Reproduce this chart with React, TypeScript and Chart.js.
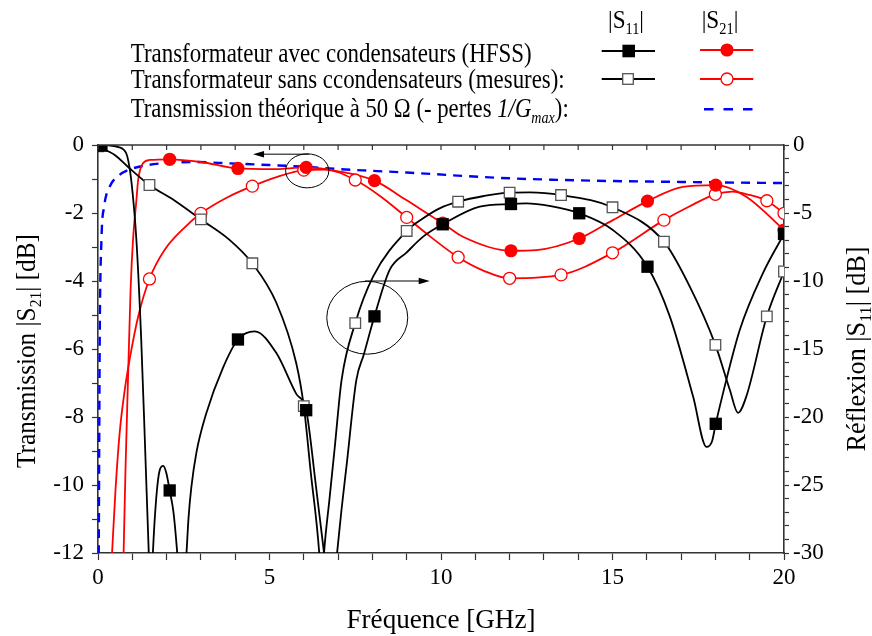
import React, { useEffect, useRef } from 'react';
import { Chart, registerables } from 'chart.js';

Chart.register(...registerables);

const SERIF = '"Liberation Serif", "Times New Roman", serif';
const RED = '#ff0000';
const BLUE = '#0000ff';
const AXIS = '#333333';

// ---------------- data (frequency in GHz, levels in dB) ----------------
// |S21| HFSS (transformateur avec condensateurs) – continuous curve
const s21HfssCurveF = [0.74, 0.8, 0.88, 0.95, 1.02, 1.12, 1.17, 1.31, 1.51, 2.09, 3.0, 4.08, 5.1, 6.07, 7.04, 8.06, 8.99, 9.67, 10.05, 10.64, 12.04, 12.78, 14.03, 15.01, 16.02, 17.05, 18.01, 18.9, 20.0];
const s21HfssCurveDb = [-12.3, -9.6, -6.7, -4.26, -2.8, -1.62, -1.03, -0.54, -0.44, -0.42, -0.5, -0.69, -0.71, -0.66, -0.78, -1.05, -1.62, -2.06, -2.3, -2.7, -3.11, -3.09, -2.75, -2.21, -1.65, -1.23, -1.18, -1.52, -2.5];

// |S21| mesures (transformateur sans condensateurs) – continuous curve
const s21MeasCurveF = [0.41, 0.51, 0.63, 0.78, 0.92, 1.17, 1.5, 1.94, 2.5, 3.0, 3.75, 4.5, 5.25, 6.0, 6.6, 7.5, 8.25, 9.0, 9.67, 10.5, 11.25, 12.0, 13.5, 15.0, 16.5, 17.25, 18.0, 18.5, 19.0, 19.5, 20.0];
const s21MeasCurveDb = [-12, -10.15, -8.48, -7.2, -6.32, -5.05, -3.94, -3.09, -2.45, -2.01, -1.55, -1.21, -0.93, -0.74, -0.72, -1.03, -1.52, -2.13, -2.68, -3.3, -3.7, -3.92, -3.82, -3.17, -2.21, -1.8, -1.45, -1.37, -1.47, -1.64, -2.01];

// |S11| HFSS – continuous curve
const s11HfssCurveF = [0, 0.3, 0.6, 0.75, 0.85, 0.97, 1.12, 1.26, 1.37, 1.48, 1.54, 1.6, 1.7, 1.8, 1.9, 1.99, 2.09, 2.2, 2.31, 2.45, 2.58, 2.64, 2.72, 2.87, 3.16, 3.64, 4.08, 4.57, 5.2, 5.78, 6.07, 6.35, 6.59, 6.78, 6.97, 7.1, 7.25, 7.53, 7.75, 8.06, 8.5, 9.0, 9.48, 10.05, 11.13, 12.04, 12.49, 13.2, 14.03, 15.01, 16.02, 16.67, 17.35, 17.74, 17.9, 18.01, 18.13, 18.71, 19.39, 20.0];
const s11HfssCurveDb = [0, -0.02, -0.15, -0.35, -0.8, -2.6, -7.0, -14.3, -22, -30, -34, -30, -25.9, -23.9, -23.6, -24.1, -25.4, -27, -30, -35, -30, -27.4, -25.2, -22.6, -19.7, -16.4, -14.3, -13.7, -15.3, -18.3, -19.5, -25, -30, -34, -30, -26.8, -23.5, -17.3, -15.4, -12.6, -9.2, -7.9, -6.74, -5.83, -4.53, -4.34, -4.29, -4.5, -5.02, -6.25, -8.95, -12.6, -18.5, -22.2, -21.8, -20.5, -19.2, -13.6, -9.4, -6.54];

// |S11| mesures – continuous curve
const s11MeasCurveF = [0, 0.49, 0.87, 1.5, 2.24, 3.0, 3.8, 4.5, 5.2, 5.78, 6.0, 6.2, 6.45, 6.52, 6.59, 6.75, 6.9, 7.1, 7.5, 8.02, 9.0, 9.48, 9.96, 10.5, 11.25, 12.0, 12.59, 13.5, 15.0, 16.5, 17.25, 18.0, 18.42, 18.66, 18.9, 19.5, 20.0];
const s11MeasCurveDb = [-0.1, -0.74, -1.6, -2.94, -4.1, -5.47, -6.9, -8.7, -11.6, -16.05, -19.2, -24, -30, -33, -30, -26, -22.3, -17.3, -13.1, -9.68, -6.32, -5.39, -4.66, -4.17, -3.75, -3.5, -3.48, -3.68, -4.58, -7.11, -10.4, -14.7, -18.0, -19.7, -18.5, -12.6, -9.3];

// Transmission théorique à 50 Ω (- pertes 1/Gmax)
const theoryF = [0.02, 0.05, 0.1, 0.18, 0.34, 0.63, 0.87, 1.46, 2.33, 2.8, 3.84, 5.0, 6.07, 7.05, 8.0, 9.0, 9.87, 10.64, 12.0, 13.6, 15.0, 16.5, 18.0, 20.0];
const theoryDb = [-12.5, -5.74, -2.8, -1.81, -1.23, -0.88, -0.74, -0.59, -0.51, -0.5, -0.54, -0.59, -0.64, -0.71, -0.76, -0.81, -0.86, -0.91, -0.98, -1.03, -1.06, -1.08, -1.1, -1.12];

// markers
const hfssMarkF = [0.1, 2.09, 4.08, 6.07, 8.06, 10.05, 12.04, 14.03, 16.02, 18.01, 20.0];
const hfssS11Mark = [-0.05, -25.4, -14.3, -19.5, -12.6, -5.83, -4.34, -5.02, -8.95, -20.5, -6.54];
const hfssS21Mark: (number | null)[] = [null, -0.42, -0.69, -0.66, -1.05, -2.3, -3.11, -2.75, -1.65, -1.18, -2.5];
const measMarkF = [0, 1.5, 3.0, 4.5, 6.0, 7.5, 9.0, 10.5, 12.0, 13.5, 15.0, 16.5, 18.0, 19.5, 20.0];
const measS11Mark = [-0.1, -2.94, -5.47, -8.7, -19.2, -13.1, -6.32, -4.17, -3.5, -3.68, -4.58, -7.11, -14.7, -12.6, -9.3];
const measS21Mark: (number | null)[] = [null, -3.94, -2.01, -1.21, -0.74, -1.03, -2.13, -3.3, -3.92, -3.82, -3.17, -2.21, -1.45, -1.64, -2.01];

// axes
const xTickLabels = [0, 5, 10, 15, 20];
const leftTickLabels = [0, -2, -4, -6, -8, -10, -12];
const rightTickLabels = [0, -5, -10, -15, -20, -25, -30];

// annotations (data coordinates)
const ellipseA = { cx: 6.1, cy: -0.76, rx: 0.63, ry: 0.5, axis: 'y' };
const arrowA = { x0: 6.15, x1: 4.52, y: -0.27, axis: 'y' };
const ellipseB = { cx: 7.85, cy: -12.7, rx: 1.18, ry: 2.68, axis: 'y2' };
const arrowB = { x0: 7.78, x1: 9.67, y: -10.0, axis: 'y2' };

// ----------------------------------------------------------------------
type Pt = { x: number; y: number | null };
const pairs = (xs: number[], ys: (number | null)[]): Pt[] => xs.map((x, i) => ({ x, y: ys[i] }));

type Part = { t: string; sub?: boolean; it?: boolean };

function drawRich(
  ctx: CanvasRenderingContext2D,
  parts: Part[],
  x: number,
  y: number,
  size: number,
  fit: number | null,
  align: 'left' | 'center',
  rotate = 0
) {
  const subSize = size * 0.62;
  const font = (p: Part) => `${p.it ? 'italic ' : ''}${p.sub ? subSize : size}px ${SERIF}`;
  const widths = parts.map((p) => {
    ctx.font = font(p);
    return ctx.measureText(p.t).width;
  });
  const total = widths.reduce((a, b) => a + b, 0);
  const sx = fit ? fit / total : 1;
  ctx.save();
  ctx.translate(x, y);
  if (rotate) ctx.rotate(rotate);
  ctx.scale(sx, 1);
  ctx.fillStyle = '#000';
  ctx.textAlign = 'left';
  ctx.textBaseline = 'alphabetic';
  let cx = align === 'center' ? -total / 2 : 0;
  parts.forEach((p, i) => {
    ctx.font = font(p);
    ctx.fillText(p.t, cx, p.sub ? size * 0.24 : 0);
    cx += widths[i];
  });
  ctx.restore();
}

function arrowHead(ctx: CanvasRenderingContext2D, tipX: number, y: number, dir: number) {
  ctx.beginPath();
  ctx.moveTo(tipX, y);
  ctx.lineTo(tipX - dir * 11, y - 3.2);
  ctx.lineTo(tipX - dir * 11, y + 3.2);
  ctx.closePath();
  ctx.fill();
}

const overlayPlugin = {
  id: 'overlay',
  afterDatasetsDraw(chart: any) {
    const ctx: CanvasRenderingContext2D = chart.ctx;
    const xs = chart.scales.x;
    ctx.save();
    ctx.strokeStyle = '#000';
    ctx.fillStyle = '#000';
    ctx.lineWidth = 1;
    [ellipseA, ellipseB].forEach((e) => {
      const ys = chart.scales[e.axis];
      const cx = xs.getPixelForValue(e.cx);
      const cy = ys.getPixelForValue(e.cy);
      const rx = Math.abs(xs.getPixelForValue(e.cx + e.rx) - cx);
      const ry = Math.abs(ys.getPixelForValue(e.cy + e.ry) - cy);
      ctx.beginPath();
      ctx.ellipse(cx, cy, rx, ry, 0, 0, Math.PI * 2);
      ctx.stroke();
    });
    [arrowA, arrowB].forEach((a) => {
      const ys = chart.scales[a.axis];
      const x0 = xs.getPixelForValue(a.x0);
      const x1 = xs.getPixelForValue(a.x1);
      const y = ys.getPixelForValue(a.y);
      const dir = Math.sign(x1 - x0);
      ctx.beginPath();
      ctx.moveTo(x0, y);
      ctx.lineTo(x1 - dir * 8, y);
      ctx.stroke();
      arrowHead(ctx, x1, y, dir);
    });
    ctx.restore();
  },
  afterDraw(chart: any) {
    const ctx: CanvasRenderingContext2D = chart.ctx;
    const area = chart.chartArea;
    const xs = chart.scales.x;
    ctx.save();
    // top frame with inward ticks
    ctx.strokeStyle = AXIS;
    ctx.lineWidth = 1.6;
    ctx.beginPath();
    ctx.moveTo(area.left, area.top);
    ctx.lineTo(area.right, area.top);
    ctx.stroke();
    ctx.lineWidth = 1.2;
    xs.ticks.forEach((t: any) => {
      const px = xs.getPixelForValue(t.value);
      ctx.beginPath();
      ctx.moveTo(px, area.top);
      ctx.lineTo(px, area.top + 5);
      ctx.stroke();
    });

    // axis titles
    drawRich(ctx, [{ t: 'Fréquence [GHz]' }], (area.left + area.right) / 2, 628, 27, 189, 'center');
    drawRich(
      ctx,
      [{ t: 'Transmission |S' }, { t: '21', sub: true }, { t: '| [dB]' }],
      35,
      (area.top + area.bottom) / 2 + 2,
      27,
      234,
      'center',
      -Math.PI / 2
    );
    drawRich(
      ctx,
      [{ t: 'Réflexion |S' }, { t: '11', sub: true }, { t: '| [dB]' }],
      865,
      (area.top + area.bottom) / 2,
      27,
      205,
      'center',
      -Math.PI / 2
    );

    // legend table
    drawRich(ctx, [{ t: '|S' }, { t: '11', sub: true }, { t: '|' }], 626, 28, 26, 36, 'center');
    drawRich(ctx, [{ t: '|S' }, { t: '21', sub: true }, { t: '|' }], 720, 28, 26, 36.6, 'center');
    drawRich(ctx, [{ t: 'Transformateur avec condensateurs (HFSS)' }], 130.7, 61.7, 27, 401, 'left');
    drawRich(ctx, [{ t: 'Transformateur sans ccondensateurs (mesures):' }], 130.7, 88.3, 27, 434, 'left');
    drawRich(
      ctx,
      [
        { t: 'Transmission théorique à 50 Ω (- pertes ' },
        { t: '1/G', it: true },
        { t: 'max', it: true, sub: true },
        { t: '):' },
      ],
      130.7,
      116.7,
      27,
      438,
      'left'
    );

    // legend samples
    const line = (x0: number, x1: number, y: number, color: string, w: number, dash: number[] = []) => {
      ctx.strokeStyle = color;
      ctx.lineWidth = w;
      ctx.setLineDash(dash);
      ctx.beginPath();
      ctx.moveTo(x0, y);
      ctx.lineTo(x1, y);
      ctx.stroke();
      ctx.setLineDash([]);
    };
    line(601.7, 655, 51, '#000', 1.8);
    ctx.fillStyle = '#000';
    ctx.fillRect(628.7 - 6.3, 51 - 6.3, 12.6, 12.6);
    line(700, 753.3, 50, RED, 1.8);
    ctx.fillStyle = RED;
    ctx.beginPath();
    ctx.arc(727, 50, 6.6, 0, Math.PI * 2);
    ctx.fill();

    line(601.7, 655, 79, '#000', 1.8);
    ctx.fillStyle = '#fff';
    ctx.fillRect(628 - 5.3, 79 - 5.3, 10.6, 10.6);
    ctx.strokeStyle = '#555';
    ctx.lineWidth = 1.3;
    ctx.strokeRect(628 - 5.3, 79 - 5.3, 10.6, 10.6);
    line(700, 753.3, 79, RED, 1.8);
    ctx.fillStyle = '#fff';
    ctx.strokeStyle = RED;
    ctx.lineWidth = 1.3;
    ctx.beginPath();
    ctx.arc(727, 79, 6, 0, Math.PI * 2);
    ctx.fill();
    ctx.stroke();

    line(704, 753, 109.3, BLUE, 2.4, [9.5, 10]);
    ctx.restore();
  },
};

export default function App() {
  const ref = useRef<HTMLCanvasElement>(null);

  useEffect(() => {
    const canvas = ref.current;
    if (!canvas) return;
    const tickFont = { family: SERIF, size: 23 };
    const curve = (data: Pt[], axis: string, color: string, order: number, extra: any = {}) => ({
      data,
      yAxisID: axis,
      borderColor: color,
      backgroundColor: color,
      borderWidth: 1.8,
      pointRadius: 0,
      cubicInterpolationMode: 'monotone',
      fill: false,
      clip: 0,
      order,
      ...extra,
    });
    const chart = new Chart(canvas, {
      type: 'line',
      data: {
        datasets: [
          {
            data: pairs(hfssMarkF, hfssS11Mark),
            yAxisID: 'y2',
            showLine: false,
            pointStyle: 'rect',
            pointRadius: 8.7,
            pointBackgroundColor: '#000',
            pointBorderColor: '#000',
            pointBorderWidth: 0,
            clip: 0,
            order: 0,
          },
          {
            data: pairs(measMarkF, measS11Mark),
            yAxisID: 'y2',
            showLine: false,
            pointStyle: 'rect',
            pointRadius: 7.5,
            pointBackgroundColor: '#fff',
            pointBorderColor: '#555',
            pointBorderWidth: 1.3,
            clip: 0,
            order: 1,
          },
          {
            data: pairs(hfssMarkF, hfssS21Mark),
            yAxisID: 'y',
            showLine: false,
            pointStyle: 'circle',
            pointRadius: 6.6,
            pointBackgroundColor: RED,
            pointBorderColor: RED,
            pointBorderWidth: 0,
            clip: 0,
            order: 2,
          },
          {
            data: pairs(measMarkF, measS21Mark),
            yAxisID: 'y',
            showLine: false,
            pointStyle: 'circle',
            pointRadius: 6,
            pointBackgroundColor: '#fff',
            pointBorderColor: RED,
            pointBorderWidth: 1.3,
            clip: 0,
            order: 3,
          },
          curve(pairs(s11HfssCurveF, s11HfssCurveDb), 'y2', '#000', 10),
          curve(pairs(s11MeasCurveF, s11MeasCurveDb), 'y2', '#000', 11),
          curve(pairs(s21HfssCurveF, s21HfssCurveDb), 'y', RED, 12),
          curve(pairs(s21MeasCurveF, s21MeasCurveDb), 'y', RED, 13),
          curve(pairs(theoryF, theoryDb), 'y', BLUE, 14, { borderWidth: 2.4, borderDash: [9, 7] }),
        ] as any,
      },
      options: {
        responsive: false,
        animation: false,
        events: [],
        layout: { padding: { top: 145, left: 0, right: 0, bottom: 0 } },
        elements: { line: { capBezierPoints: false } },
        plugins: { legend: { display: false }, tooltip: { enabled: false }, title: { display: false } },
        scales: {
          x: {
            type: 'linear',
            position: 'bottom',
            min: 0,
            max: 20,
            afterFit: (s: any) => {
              s.height = 83;
            },
            ticks: {
              stepSize: 1,
              autoSkip: false,
              maxRotation: 0,
              minRotation: 0,
              padding: 4,
              color: '#000',
              font: tickFont,
              callback: (v: any) => (xTickLabels.includes(Number(v)) ? String(v) : ''),
            },
            grid: { drawOnChartArea: false, drawTicks: true, tickLength: 7, tickColor: AXIS, tickWidth: 1.2 },
            border: { display: true, color: AXIS, width: 1.6 },
          },
          y: {
            type: 'linear',
            position: 'left',
            min: -12,
            max: 0,
            afterFit: (s: any) => {
              s.width = 98;
            },
            ticks: {
              stepSize: 1,
              autoSkip: false,
              padding: 8,
              color: '#000',
              font: tickFont,
              callback: (v: any) => (leftTickLabels.includes(Number(v)) ? String(v) : ''),
            },
            grid: { drawOnChartArea: false, drawTicks: true, tickLength: 6, tickColor: AXIS, tickWidth: 1.2 },
            border: { display: true, color: AXIS, width: 1.6 },
          },
          y2: {
            type: 'linear',
            position: 'right',
            min: -30,
            max: 0,
            afterFit: (s: any) => {
              s.width = 88;
            },
            ticks: {
              stepSize: 1,
              autoSkip: false,
              padding: 4,
              color: '#000',
              font: tickFont,
              callback: (v: any) => (rightTickLabels.includes(Number(v)) ? String(v) : ''),
            },
            grid: { drawOnChartArea: false, drawTicks: true, tickLength: 5, tickColor: AXIS, tickWidth: 1.2 },
            border: { display: true, color: AXIS, width: 1.6 },
          },
        },
      } as any,
      plugins: [overlayPlugin],
    });
    return () => chart.destroy();
  }, []);

  return (
    <div style={{ position: 'fixed', left: 0, top: 0, width: 872, height: 636, background: '#fff' }}>
      <canvas ref={ref} width={872} height={636} style={{ display: 'block', width: 872, height: 636 }} />
    </div>
  );
}
